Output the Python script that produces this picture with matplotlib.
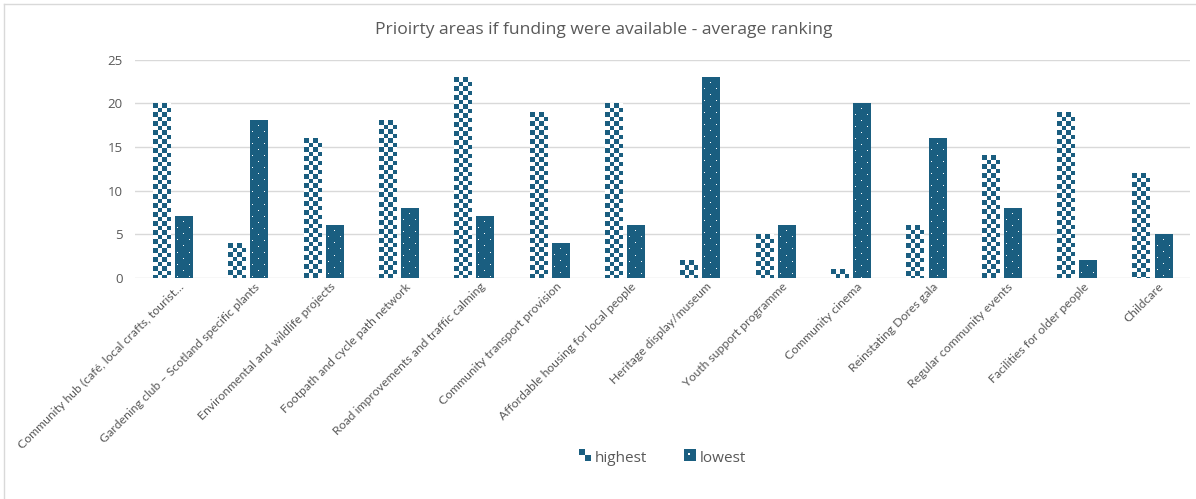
#!/usr/bin/env python3
"""Priority areas if funding were available -- average ranking (grouped bars)."""

import matplotlib
matplotlib.use("Agg")
import matplotlib.pyplot as plt
import matplotlib.transforms as mtransforms
import numpy as np
from matplotlib.legend_handler import HandlerBase
from matplotlib.lines import Line2D
from matplotlib.patches import Rectangle

plt.rcParams['font.family'] = ['Open Sans', 'DejaVu Sans']

categories = [
    "Community hub (café, local crafts, tourist…",
    "Gardening club – Scotland specific plants",
    "Environmental and wildlife projects",
    "Footpath and cycle path network",
    "Road improvements and traffic calming",
    "Community transport provision",
    "Affordable housing for local people",
    "Heritage display/museum",
    "Youth support programme",
    "Community cinema",
    "Reinstating Dores gala",
    "Regular community events",
    "Facilities for older people",
    "Childcare",
]
highest = [20, 4, 16, 18, 23, 19, 20, 2, 5, 1, 6, 14, 19, 12]
lowest = [7, 18, 6, 8, 7, 4, 6, 23, 6, 20, 16, 8, 2, 5]
yticks = [0, 5, 10, 15, 20, 25]
title = "Prioirty areas if funding were available - average ranking"

BLUE = '#1a5e80'
GREY = '#595959'
GRID = '#d9d9d9'
W, H, DPI = 11.96, 4.99, 100


def checker(h_px, w_px, cell=4.5):
    i, j = np.indices((max(h_px, 1), max(w_px, 1)))
    return ((i // cell).astype(int) + (j // cell).astype(int)) % 2 == 0


def dots(h_px, w_px):
    img = np.zeros((max(h_px, 1), max(w_px, 1)), dtype=bool)
    i, j = np.indices(img.shape)
    # staggered white dots: 12 px period, rows offset by 6 px
    a = ((i % 12) == 5) & ((j % 12) == 8)
    b = ((i % 12) == 11) & ((j % 12) == 2)
    img[a | b] = True
    return img


def to_rgba(mask, on, off):
    on = np.array(matplotlib.colors.to_rgba(on))
    off = np.array(matplotlib.colors.to_rgba(off))
    return np.where(mask[..., None], on, off)


class CheckHandler(HandlerBase):
    def create_artists(self, legend, orig_handle, xd, yd, width, height, fontsize, trans):
        s = height
        x0 = xd + width - s
        h = s / 2
        return [Rectangle((x0, yd + h), h, h, fc=BLUE, ec='none', transform=trans),
                Rectangle((x0 + h, yd), h, h, fc=BLUE, ec='none', transform=trans),
                Rectangle((x0 + h, yd + h * 0.5), h, h * 0.5, fc=BLUE, ec='none', transform=trans)]


class DotHandler(HandlerBase):
    def create_artists(self, legend, orig_handle, xd, yd, width, height, fontsize, trans):
        s = height
        x0 = xd + width - s
        return [Rectangle((x0, yd), s, s, fc=BLUE, ec='none', transform=trans),
                Rectangle((x0 + s * 0.3, yd + s * 0.55), s * 0.2, s * 0.15, fc='white', ec='none',
                          transform=trans)]


def main():
    fig = plt.figure(figsize=(W, H), dpi=DPI)
    ax = fig.add_axes([0.113, 0.443, 0.882, 0.437])
    x = np.arange(len(categories))
    bw, off = 0.235, 0.147

    ax.set_yticks(yticks)
    ax.yaxis.grid(True, color=GRID, lw=1.0)
    ax.set_axisbelow(True)
    for s in ax.spines.values():
        s.set_visible(False)
    ax.tick_params(axis='both', length=0, colors=GREY, labelsize=9.5)
    ax.tick_params(axis='y', pad=9)

    bars_h = ax.bar(x - off, highest, bw, color='none', edgecolor='none')
    bars_l = ax.bar(x + off, lowest, bw, color='none', edgecolor='none')

    px_x = 0.882 * W * DPI / len(categories)
    px_y = 0.437 * H * DPI / 25.0
    for bars, pattern in ((bars_h, 'check'), (bars_l, 'dots')):
        for b in bars:
            x0, w, hgt = b.get_x(), b.get_width(), b.get_height()
            wp = int(round(w * px_x))
            hp = int(round(hgt * px_y))
            if pattern == 'check':
                img = to_rgba(checker(hp, wp)[::-1], BLUE, 'white')
            else:
                img = to_rgba(dots(hp, wp)[::-1], 'white', BLUE)
            ax.imshow(img, extent=(x0, x0 + w, 0, hgt), origin='lower',
                      interpolation='nearest', aspect='auto', zorder=2)
    ax.set_xlim(-0.5, len(categories) - 0.5)
    ax.set_ylim(0, 25)

    ax.set_xticks(x)
    ax.set_xticklabels(categories, rotation=45, ha='right', va='center',
                       rotation_mode='anchor', fontsize=8.8, family=['Lato', 'DejaVu Sans'])
    ax.tick_params(axis='x', pad=5)
    shift = mtransforms.ScaledTranslation(7 / 72, 0, fig.dpi_scale_trans)
    for lab in ax.get_xticklabels():
        lab.set_transform(lab.get_transform() + shift)

    fig.text(0.505, 0.94, title, color=GREY, fontsize=12.6, ha='center', va='center')

    h1 = Rectangle((0, 0), 1, 1)
    h2 = Rectangle((0, 0), 1, 1)
    leg = fig.legend([h1, h2], ['highest', 'lowest'], loc='center',
                     bbox_to_anchor=(0.554, 0.082), ncol=2, frameon=False,
                     fontsize=11, handlelength=0.8, handleheight=0.8,
                     handletextpad=0.25, columnspacing=2.4,
                     handler_map={h1: CheckHandler(), h2: DotHandler()})
    for t in leg.get_texts():
        t.set_color(GREY)

    fig.add_artist(Line2D([0.003, 1], [0.992, 0.992], color=GRID, lw=1.0))
    fig.add_artist(Line2D([0.003, 0.003], [0, 0.992], color=GRID, lw=1.0))

    fig.savefig('out.png', dpi=DPI)


if __name__ == '__main__':
    main()
